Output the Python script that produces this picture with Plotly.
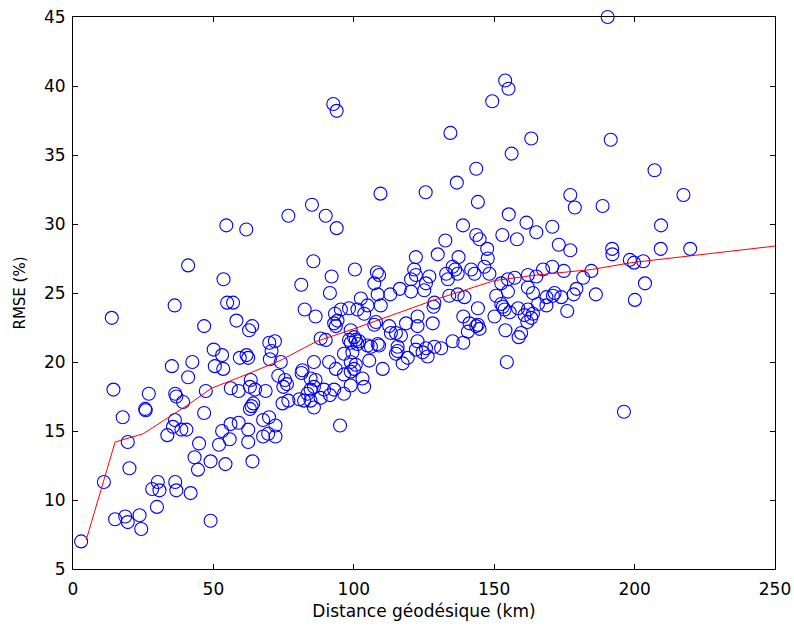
import plotly.graph_objects as go

# Scatter points: geodesic distance (km) and RMSE (%)
dist_km = [
    2.9, 11.0, 13.8, 14.4, 17.7, 19.5, 20.1, 15.0, 18.6, 19.5, 23.7, 24.3, 27.0, 25.7, 25.9,
    28.2, 30.2, 30.8, 29.9, 35.2, 36.2, 36.4, 36.8, 39.2, 36.3, 35.6, 33.6, 38.6, 40.4, 36.4,
    36.8, 41.9, 41.0, 42.5, 46.7, 47.3, 46.7, 44.9, 43.3, 44.5, 49.0, 49.0, 50.1, 53.1, 50.5,
    53.5, 54.3, 52.0, 53.1, 55.8, 56.1, 59.0, 62.4, 62.4, 63.9, 54.9, 57.0, 58.2, 62.7, 63.8,
    69.9, 71.9, 70.7, 70.1, 59.4, 61.8, 62.4, 56.2, 59.0, 63.3, 63.0, 64.8, 68.6, 63.0, 64.2,
    63.6, 67.7, 69.8, 72.1, 67.7, 69.5, 72.1, 74.0, 73.1, 75.5, 74.9, 76.2, 74.6, 76.7, 81.4,
    80.6,
    54.6, 61.7, 76.7, 85.1, 41.0, 53.6, 81.3, 85.6,
    92.7, 93.9, 153.9, 155.1, 149.3, 134.4, 163.2, 156.2, 143.6, 136.7, 144.2, 125.6, 109.5,
    90.0, 93.9, 155.2, 161.5, 138.9, 132.6, 143.6, 144.8, 152.9, 158.1, 147.5, 147.7, 137.3,
    129.9, 122.1, 100.4, 108.2, 109.0, 107.3, 92.1, 91.5, 121.5, 120.4, 122.1, 126.9, 125.7,
    125.1, 120.4, 116.4, 113.0, 108.5, 102.5, 135.2, 136.1, 137.0, 132.9, 133.5, 141.8, 143.0,
    146.5, 148.3, 152.5, 154.9, 157.3, 162.0, 162.0, 154.9, 150.7, 134.0, 137.0, 139.4,
    82.5, 86.4, 93.3, 94.2, 93.0, 93.6, 95.4, 98.3, 101.3, 104.9, 103.7, 107.9, 107.3, 109.6,
    128.7, 128.4, 144.2, 139.0, 141.2, 144.2, 144.8, 140.6, 143.6, 122.7, 118.6, 122.7, 128.1,
    112.6, 115.0, 116.8, 113.2, 98.9, 88.2, 90.0, 98.3, 100.1, 101.9, 100.7, 98.9, 101.3,
    96.5, 99.5, 104.9, 108.5, 109.0, 106.1, 115.6, 115.0, 115.6, 122.7, 122.1, 124.5, 125.7,
    126.3, 128.7, 131.1, 135.2, 139.0, 119.2, 117.4, 85.8, 91.2, 93.6, 98.9, 100.7, 100.1,
    105.5, 110.3, 96.5, 98.9, 81.7, 84.6, 86.4, 103.1, 103.7, 98.9, 96.5, 93.0, 89.4, 91.5,
    84.6, 85.8, 83.5, 82.3, 84.6, 85.8, 88.2, 95.1, 154.5,
    152.5, 153.7, 155.5, 158.5, 162.0, 160.8, 161.8, 154.0, 159.6, 158.7, 150.1, 153.1,
    207.1, 177.1, 178.7, 188.6, 217.4, 170.7, 209.4, 173.0, 177.1, 192.0, 192.1, 209.3, 219.8,
    198.3, 199.8, 203.1, 203.7, 200.1, 186.2, 184.6, 181.7, 179.3, 178.3, 176.0, 174.8, 170.7,
    167.4, 165.0, 173.9, 171.5, 170.9, 168.6, 168.6, 165.6, 163.8, 163.8, 163.2, 196.2, 165.0,
    190.4, 191.5,
]
rmse_pct = [
    7.0, 11.3, 23.2, 18.0, 16.0, 14.2, 12.3, 8.6, 8.8, 8.4, 8.9, 7.9, 17.7, 16.6, 16.5,
    10.8, 11.3, 10.7, 9.5, 19.7, 24.1, 17.7, 17.5, 17.1, 15.8, 15.3, 14.7, 15.1, 15.1, 11.3,
    10.7, 10.5, 18.9, 20.0, 22.6, 17.9, 16.3, 14.1, 13.1, 12.2, 12.8, 8.5, 20.9, 20.5, 19.7,
    19.5, 12.6, 14.0, 15.0, 14.4, 15.5, 15.6, 14.2, 15.1, 12.8, 24.3, 24.3, 23.0, 22.3, 22.6,
    21.4, 21.5, 20.8, 20.2, 20.3, 20.5, 20.3, 18.1, 17.9, 18.7, 18.2, 18.0, 17.9, 16.6, 17.0,
    16.8, 15.8, 16.0, 15.4, 14.6, 14.8, 14.6, 20.0, 19.0, 18.7, 18.2, 18.4, 17.0, 17.2, 19.2,
    17.3,
    29.9, 29.6, 30.6, 31.4, 27.0, 26.0, 25.6, 27.3,
    38.7, 38.2, 40.4, 39.8, 38.9, 36.6, 36.2, 35.1, 34.0, 33.0, 31.6, 32.3, 32.2,
    30.6, 29.7, 30.7, 30.1, 29.9, 28.8, 29.2, 28.9, 29.2, 28.9, 28.2, 27.5, 27.6,
    27.8, 27.6, 26.7, 26.5, 26.3, 25.7, 26.2, 25.0, 26.7, 26.0, 26.3, 26.2, 25.7,
    25.2, 25.1, 25.3, 24.9, 24.9, 24.6, 26.9, 26.7, 26.4, 26.4, 26.0, 26.7, 26.4,
    26.9, 26.4, 25.7, 26.0, 26.1, 26.3, 25.4, 25.1, 24.8, 24.8, 24.9, 24.7,
    23.8, 23.3, 23.5, 23.0, 22.8, 22.6, 23.8, 23.9, 23.8, 24.1, 23.5, 22.9, 22.7, 24.1,
    24.3, 24.0, 23.9, 23.3, 22.8, 22.7, 22.4, 22.2, 22.6, 23.3, 22.8, 22.6, 22.8,
    22.6, 22.1, 21.9, 22.1, 22.3, 21.7, 21.6, 21.6, 21.8, 21.5, 21.6, 21.4, 21.3,
    20.6, 20.7, 21.2, 21.3, 21.2, 21.1, 21.1, 20.6, 20.8, 21.5, 20.9, 20.7, 21.0,
    20.4, 21.1, 21.0, 21.5, 21.4, 20.3, 19.9, 20.0, 20.0, 19.5, 20.0, 19.8, 19.5,
    20.1, 19.5, 19.1, 19.3, 19.4, 18.8, 18.7, 18.8, 18.2, 18.3, 17.7, 18.0, 18.0, 17.6,
    18.0, 18.2, 17.7, 17.2, 17.2, 16.7, 17.4, 15.4, 20.0,
    24.2, 23.8, 23.6, 23.9, 23.8, 23.4, 22.9, 22.3, 22.1, 21.8, 23.3, 24.0,
    33.9, 32.1, 31.2, 31.3, 32.1, 29.8, 29.9, 28.5, 28.1, 28.2, 27.8, 28.2, 28.2,
    27.4, 27.2, 27.3, 25.7, 24.5, 24.9, 26.6, 26.1, 25.3, 24.9, 23.7, 26.6, 26.9,
    26.7, 26.2, 24.7, 25.0, 24.8, 24.7, 24.1, 24.2, 25.0, 23.5, 23.2, 16.4, 29.4,
    45.0, 36.1,
]

# Red trend line vertices
fit_km = [4.7, 15, 25, 41, 49.3, 58.2, 73.7, 86.8, 100, 128.7, 139.4, 150.1, 165, 184.6, 198.9, 250]
fit_rmse = [7.1, 14.2, 14.8, 16.9, 18.1, 18.8, 20.1, 21.5, 22.4, 24.5, 25.2, 25.9, 26.3, 26.7, 27.2, 28.4]

x_ticks = [0, 50, 100, 150, 200, 250]
y_ticks = [5, 10, 15, 20, 25, 30, 35, 40, 45]

FONT = "DejaVu Sans, Liberation Sans, Arial, sans-serif"

fig = go.Figure()
fig.add_trace(go.Scatter(
    x=dist_km, y=rmse_pct, mode="markers", cliponaxis=False,
    marker=dict(symbol="circle-open", size=13, color="#0000ff",
                line=dict(width=1.1, color="#0000ff")),
))
fig.add_trace(go.Scatter(
    x=fit_km, y=fit_rmse, mode="lines",
    line=dict(color="#ff0000", width=1),
))

axis_common = dict(
    showline=True, linecolor="black", linewidth=1, mirror="ticks",
    ticks="inside", ticklen=5, tickwidth=1, tickcolor="black",
    showgrid=False, zeroline=False, automargin=False,
    tickfont=dict(size=17, color="black", family=FONT),
)
fig.update_xaxes(range=[0, 250], tickvals=x_ticks, ticktext=[str(v) for v in x_ticks],
                 ticklabelstandoff=5,
                 title=dict(text="Distance géodésique (km)", font=dict(size=17, family=FONT), standoff=6),
                 **axis_common)
fig.update_yaxes(range=[5, 45], tickvals=y_ticks, ticktext=[str(v) for v in y_ticks],
                 ticklabelstandoff=3,
                 title=dict(text="RMSE (%)", font=dict(size=15, family=FONT), standoff=14),
                 **axis_common)
fig.update_layout(
    width=794, height=628, autosize=False,
    margin=dict(l=73, r=19, t=17, b=59, autoexpand=False),
    plot_bgcolor="white", paper_bgcolor="white",
    showlegend=False,
    font=dict(family=FONT, color="black"),
)
fig.write_html(
    "out.html",
    config={"displayModeBar": False},
    post_script="document.body.style.margin='0px';document.body.style.padding='0px';"
                "document.body.style.overflow='hidden';",
)
